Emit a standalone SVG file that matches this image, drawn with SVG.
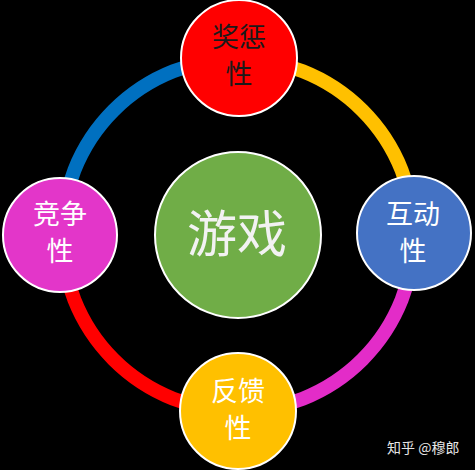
<svg xmlns="http://www.w3.org/2000/svg" width="475" height="470" viewBox="0 0 475 470">
<style>
.ring{fill:none;stroke-width:14}
.node{stroke:#FFFFFF;stroke-width:2}
.t{font-family:"Noto Sans CJK SC","Noto Sans",sans-serif;font-size:27px;text-anchor:middle;fill:#FFFFFF}
.dark{fill:#1A1A1A}
.big{font-size:50px;fill:#F2F2F2}
.wm{font-family:"Noto Sans CJK SC","Noto Sans",sans-serif;font-size:14px;fill:#E6E6E6}
</style>
<rect x="0" y="0" width="475" height="470" fill="#000000"/>
<g id="connectors">
<path class="ring" stroke="#0070C0" d="M62,235 A176,176 0 0 1 238,59"/>
<path class="ring" stroke="#FFC000" d="M238,59 A176,176 0 0 1 414,235"/>
<path class="ring" stroke="#E32CC8" d="M414,235 A176,176 0 0 1 238,411"/>
<path class="ring" stroke="#FF0000" d="M238,411 A176,176 0 0 1 62,235"/>
</g>
<g id="center">
<circle class="node" cx="238" cy="235" r="83" fill="#70AD47"/>
<text class="t big" x="237" y="252">游戏</text>
</g>
<g id="top">
<circle class="node" cx="239" cy="58" r="58" fill="#FF0000"/>
<text class="t dark" x="239" y="47">奖惩</text>
<text class="t dark" x="239" y="84">性</text>
</g>
<g id="right">
<circle class="node" cx="414" cy="233" r="57" fill="#4472C4"/>
<text class="t" x="413" y="224">互动</text>
<text class="t" x="413" y="261">性</text>
</g>
<g id="bottom">
<circle class="node" cx="238" cy="411" r="58" fill="#FFC000"/>
<text class="t" x="238" y="401">反馈</text>
<text class="t" x="238" y="438">性</text>
</g>
<g id="left">
<circle class="node" cx="60" cy="235" r="57" fill="#E336C9"/>
<text class="t" x="60" y="224">竞争</text>
<text class="t" x="60" y="261">性</text>
</g>
<text class="wm" x="387" y="453">知乎 @穆郎</text>
</svg>
